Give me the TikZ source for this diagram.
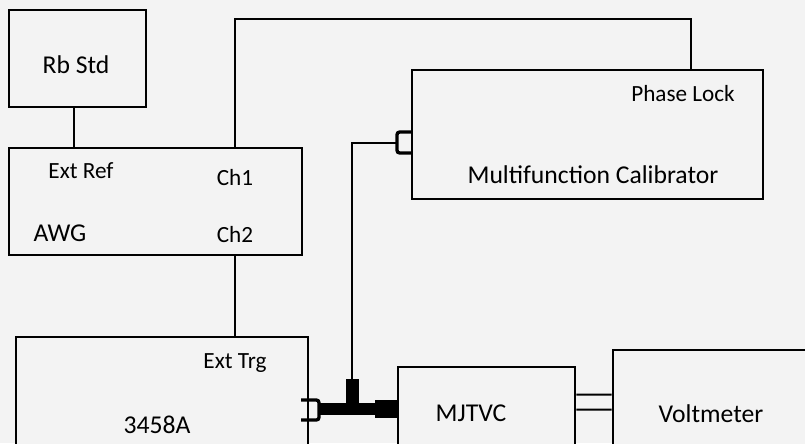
\documentclass[tikz,border=0pt]{standalone}
\usepackage{fontspec}
\setmainfont{Carlito}
\usetikzlibrary{calc}
\definecolor{bg}{HTML}{F3F3F3}

\begin{document}
\begin{tikzpicture}[x=0.2mm, y=-0.2mm,
  box/.style={draw, line width=1.5pt, fill=bg, inner sep=0pt},
  big/.style={anchor=base, inner sep=0pt, font=\fontsize{14.6}{17}\selectfont},
  small/.style={anchor=base, inner sep=0pt, font=\fontsize{13.2}{16}\selectfont},
  wire/.style={line width=1.1pt},
  plug/.style={line width=1.9pt, rounded corners=1.5pt}]
  \fill[bg] (0,0) rectangle (805,443);
  \clip (0,0) rectangle (805,443);
  \node[box, minimum width=27.4mm, minimum height=19.4mm] (rbstd) at (77.5,58.5) {};
  \node[box, minimum width=58.6mm, minimum height=21.4mm] (awg) at (155.5,201.5) {};
  \node[box, minimum width=70.2mm, minimum height=25.8mm] (mfc) at (587.5,134.5) {};
  \node[box, minimum width=58.4mm, minimum height=26.6mm] (hp) at (162,403.5) {};
  \node[box, minimum width=35.4mm, minimum height=20.6mm] (mjtvc) at (486.5,418.5) {};
  \node[box, minimum width=45.4mm, minimum height=24mm] (volt) at (726.5,410) {};
  \node[big] (rbstdlbl) at (76,73) {Rb Std};
  \node[small] (extref) at (81,178) {Ext Ref};
  \node[small] (ch1) at (235,185) {Ch1};
  \node[big] (awglbl) at (60,241) {AWG};
  \node[small] (ch2) at (235,242) {Ch2};
  \node[small] (phaselock) at (683,101) {Phase Lock};
  \node[big] (mfclbl) at (593,183) {Multifunction Calibrator};
  \node[small] (exttrg) at (235,368) {Ext Trg};
  \node[big] (hplbl) at (157,433) {3458A};
  \node[big] (mjtvclbl) at (471,421) {MJTVC};
  \node[big] (voltlbl) at (711,422) {Voltmeter};
  \coordinate (tee) at (352,409);
  \coordinate (calin) at (397,143);
  \draw[wire] ($(rbstd.south)+(-3.5,0)$) -- ($(rbstd.south |- awg.north)+(-3.5,0)$);
  \draw[wire] (ch1 |- awg.north) -- ++(0,-128) -| ($(mfc.north east)+(-73,0)$);
  \draw[wire] (ch2 |- awg.south) -- (ch2 |- hp.north);
  \draw[wire] (calin) -| ($(tee)+(0,-30)$);
  \draw[plug] ($(calin)+(15,-11)$) -| ($(calin)+(0,10)$) -- ($(calin)+(15,10)$);
  \fill ($(tee)+(-6,-30)$) rectangle ($(tee)+(7,-6)$);
  \fill ($(tee)+(-33,-6)$) rectangle ($(tee)+(23,6)$);
  \fill ($(tee)+(23,-9)$) rectangle ($(tee)+(46,9)$);
  \draw[plug] ($(tee)+(-51,-9)$) -| ($(tee)+(-33,11)$) -- ($(tee)+(-51,11)$);
  \foreach \d in {29,44}
    \draw[wire] ($(mjtvc.north east)+(0,\d)$) -- ($(volt.north west)+(0,\d+17)$);
\end{tikzpicture}
\end{document}
